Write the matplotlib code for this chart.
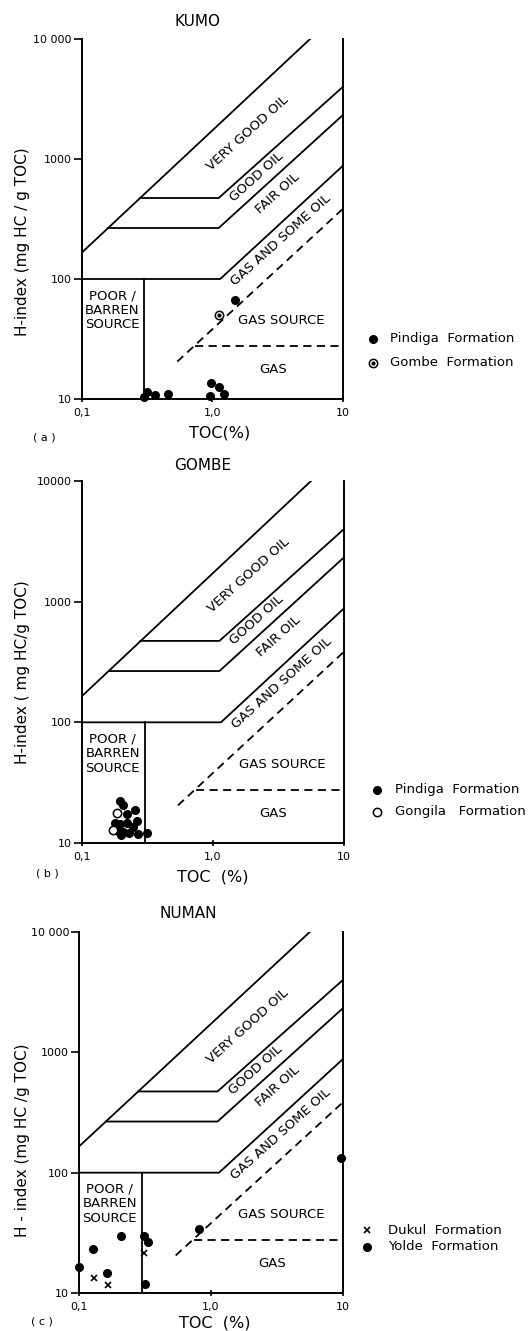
import matplotlib.pyplot as plt

W, H = 532, 1331

# source-rock zone boundaries (TOC %, H-index)
very_good_toc = [0.1, 5.6]
very_good_hi = [165, 10000]
good_toc = [0.28, 1.12, 10]
good_hi = [473, 473, 4000]
fair_toc = [0.16, 1.12, 10]
fair_hi = [266, 266, 2330]
gas_oil_toc = [0.1, 1.15, 10]
gas_oil_hi = [100, 100, 880]
gas_src_toc = [0.54, 10]
gas_src_hi = [20.5, 385]
gas_toc = [0.74, 10]
gas_hi = [27.7, 27.7]
barren_toc = [0.3, 0.3]
barren_hi = [10, 100]

# KUMO samples
kumo_pindiga_toc = [0.315, 0.30, 0.364, 0.46, 0.957, 0.986, 1.12, 1.23, 1.5]
kumo_pindiga_hi = [11.5, 10.3, 10.7, 11.0, 10.6, 13.5, 12.7, 11.0, 67]
kumo_gombe_toc = [1.13]
kumo_gombe_hi = [50]

# GOMBE samples
gombe_pindiga_toc = [0.195, 0.207, 0.254, 0.219, 0.261, 0.179, 0.195, 0.219,
                     0.246, 0.207, 0.189, 0.23, 0.269, 0.312, 0.2]
gombe_pindiga_hi = [22.1, 20.7, 18.6, 17.5, 15.3, 14.6, 14.3, 14.6,
                    13.7, 12.4, 12.6, 12.2, 11.9, 12.0, 11.6]
gombe_gongila_toc = [0.184, 0.173]
gombe_gongila_hi = [17.7, 12.8]

# NUMAN samples
numan_dukul_toc = [0.131, 0.167, 0.313]
numan_dukul_hi = [13.4, 11.6, 21.4]
numan_yolde_toc = [0.1, 0.127, 0.162, 0.207, 0.313, 0.331, 0.318, 0.815, 9.6]
numan_yolde_hi = [16.5, 23.1, 14.6, 29.9, 29.5, 26.4, 11.9, 33.8, 132]

zone_labels = [
    ("VERY GOOD OIL", 1.88, 1640, 42),
    ("GOOD OIL", 2.17, 712, 42),
    ("FAIR OIL", 3.18, 518, 42),
    ("GAS AND SOME OIL", 3.37, 211, 42),
    ("GAS SOURCE", 3.4, 45, 0),
    ("GAS", 2.9, 17.5, 0),
    ("POOR /\nBARREN\nSOURCE", 0.171, 55, 0),
]

FS_TICK = 8
FS_ZONE = 9.5
FS_LEG = 9.5


def px_axes(l, r, t, b):
    return plt.gcf().add_axes([l / W, 1 - b / H, (r - l) / W, (b - t) / H])


def fig_text(x, y, s, **kw):
    plt.gcf().text(x / W, 1 - y / H, s, **kw)


def fig_marker(ax, x, y, **kw):
    ax.plot([x / W], [1 - y / H], transform=plt.gcf().transFigure,
            clip_on=False, **kw)


def draw_zones(ax, top_label):
    kw = dict(color='black', lw=1.3)
    ax.plot(very_good_toc, very_good_hi, **kw)
    ax.plot(good_toc, good_hi, **kw)
    ax.plot(fair_toc, fair_hi, **kw)
    ax.plot(gas_oil_toc, gas_oil_hi, **kw)
    ax.plot(barren_toc, barren_hi, **kw)
    ax.plot(gas_src_toc, gas_src_hi, dashes=(4.5, 3), **kw)
    ax.plot(gas_toc, gas_hi, dashes=(4.5, 3), **kw)
    for text, x, y, rot in zone_labels:
        ax.text(x, y, text, rotation=rot, rotation_mode='anchor',
                ha='center', va='center', fontsize=FS_ZONE,
                linespacing=1.15, multialignment='center')

    ax.set_xscale('log')
    ax.set_yscale('log')
    ax.set_xlim(0.1, 10)
    ax.set_ylim(10, 10000)
    ax.set_xticks([0.1, 1, 10])
    ax.set_xticklabels(['0,1', '1,0', '10'], fontsize=FS_TICK)
    ax.set_yticks([10, 100, 1000, 10000])
    ax.set_yticklabels(['10', '100', '1000', top_label], fontsize=FS_TICK)
    ax.minorticks_off()
    ax.tick_params(axis='y', direction='out', length=6, width=1.2, pad=1)
    ax.tick_params(axis='x', direction='inout', length=5, width=1.2, pad=4)
    ax.spines['top'].set_visible(False)
    for s in ['left', 'right', 'bottom']:
        ax.spines[s].set_linewidth(1.4)


fig = plt.figure(figsize=(W / 100, H / 100), dpi=100)

dot = dict(marker='o', color='black', markersize=5.5, linestyle='none')
ring = dict(marker='o', markerfacecolor='white', markeredgecolor='black',
            markeredgewidth=1.1, markersize=6, linestyle='none')
cross = dict(marker='x', color='black', markersize=5, markeredgewidth=1.2,
             linestyle='none')
centre = dict(marker='o', color='black', markersize=2, linestyle='none')

# (a) KUMO
ax1 = px_axes(81.5, 343, 39, 399)
draw_zones(ax1, '10 000')
ax1.plot(kumo_pindiga_toc, kumo_pindiga_hi, clip_on=False, **dot)
ax1.plot(kumo_gombe_toc, kumo_gombe_hi, clip_on=False, **ring)
ax1.plot(kumo_gombe_toc, kumo_gombe_hi, **centre)
fig_text(197, 22, 'KUMO', fontsize=11, ha='center', va='center')
fig_text(220, 433, 'TOC(%)', fontsize=11.5, ha='center', va='center')
fig_text(44, 437, '( a )', fontsize=8, ha='center', va='center')
fig_text(23, 242, 'H-index (mg HC / g TOC)', fontsize=11, rotation=90,
         ha='center', va='center')
fig_marker(ax1, 373, 339, **dot)
fig_marker(ax1, 373, 363, **ring)
fig_marker(ax1, 373, 363, **centre)
fig_text(390, 339, 'Pindiga  Formation', fontsize=FS_LEG, va='center')
fig_text(390, 363, 'Gombe  Formation', fontsize=FS_LEG, va='center')

# (b) GOMBE
ax2 = px_axes(82, 344, 481, 843)
draw_zones(ax2, '10000')
ax2.plot(gombe_pindiga_toc, gombe_pindiga_hi, clip_on=False, **dot)
ax2.plot(gombe_gongila_toc, gombe_gongila_hi, clip_on=False, **ring)
fig_text(203, 465, 'GOMBE', fontsize=11, ha='center', va='center')
fig_text(213, 877, 'TOC  (%)', fontsize=11.5, ha='center', va='center')
fig_text(47, 873, '( b )', fontsize=8, ha='center', va='center')
fig_text(23, 672, 'H-index ( mg HC/g TOC)', fontsize=11, rotation=90,
         ha='center', va='center')
fig_marker(ax2, 377, 790, **dot)
fig_marker(ax2, 377, 812, **ring)
fig_text(395, 790, 'Pindiga  Formation', fontsize=FS_LEG, va='center')
fig_text(395, 812, 'Gongila   Formation', fontsize=FS_LEG, va='center')

# (c) NUMAN
ax3 = px_axes(79, 343, 932, 1293)
draw_zones(ax3, '10 000')
ax3.plot(numan_dukul_toc, numan_dukul_hi, clip_on=False, **cross)
ax3.plot(numan_yolde_toc, numan_yolde_hi, clip_on=False, **dot)
fig_text(188, 913, 'NUMAN', fontsize=11, ha='center', va='center')
fig_text(215, 1323, 'TOC  (%)', fontsize=11.5, ha='center', va='center')
fig_text(42, 1322, '( c )', fontsize=8, ha='center', va='center')
fig_text(23, 1140, 'H - index (mg HC /g TOC)', fontsize=11, rotation=90,
         ha='center', va='center')
fig_marker(ax3, 367, 1230, **cross)
fig_marker(ax3, 367, 1247, **dot)
fig_text(388, 1230, 'Dukul  Formation', fontsize=FS_LEG, va='center')
fig_text(388, 1247, 'Yolde  Formation', fontsize=FS_LEG, va='center')

fig.savefig('out.png', dpi=100)
